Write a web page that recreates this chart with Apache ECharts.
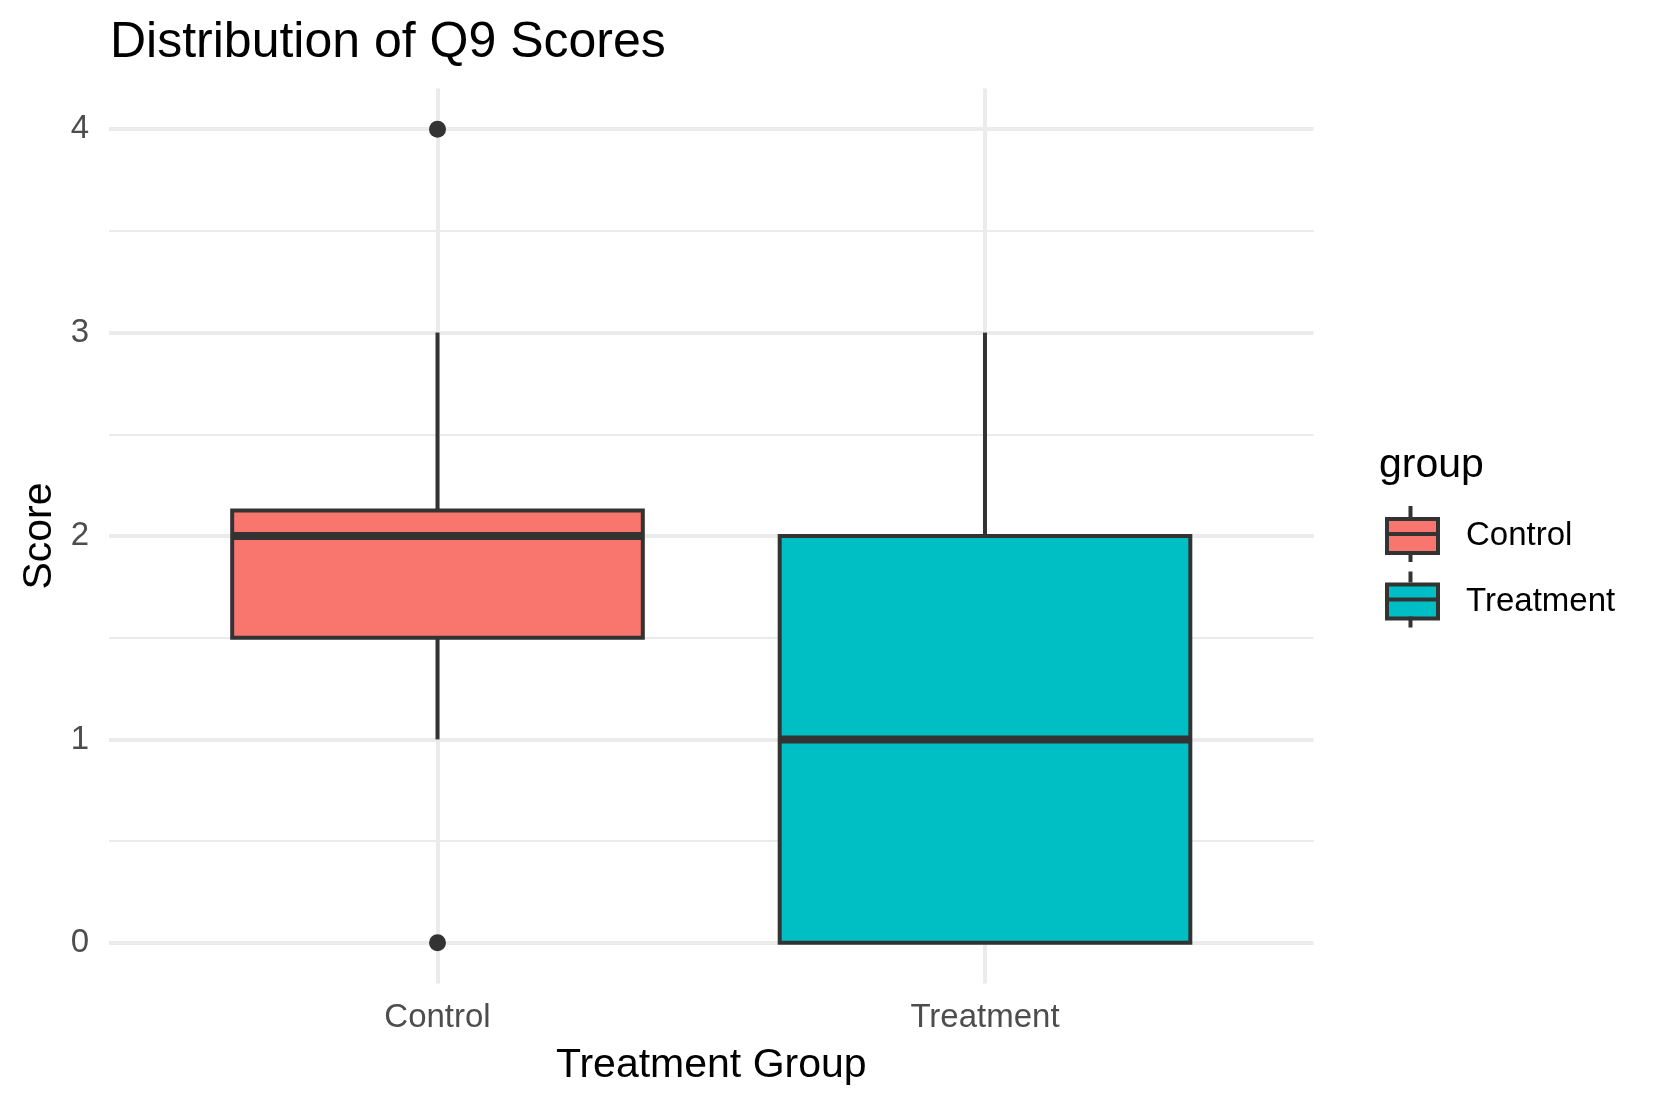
<!DOCTYPE html>
<html>
<head>
<meta charset="utf-8">
<title>Distribution of Q9 Scores</title>
<script src="https://cdn.jsdelivr.net/npm/echarts@6/dist/echarts.min.js"></script>
<style>
  html, body { margin: 0; padding: 0; background: #fff; }
  #chart { width: 1661px; height: 1107px; }
</style>
</head>
<body>
<div id="chart"></div>
<script>
// box stats per group
const groups = ['Control', 'Treatment']
const groupPos = [1, 2]
const whiskerLow = [1, 0]
const q1 = [1.5, 0]
const median = [2, 1]
const q3 = [2.125, 2]
const whiskerHigh = [3, 3]
// outliers (only Control has them)
const outlierGroup = [1, 1]
const outlierValue = [4, 0]
// axis ticks
const yTicks = [0, 1, 2, 3, 4]
const yMinorTicks = [0.5, 1.5, 2.5, 3.5]

const colors = ['#F8766D', '#00BFC4']
const FONT = 'Liberation Sans, Arial, Helvetica, sans-serif'
const BOX_WIDTH = 0.75
const GRID = { left: 109, right: 347.5, top: 88.5, bottom: 123.5 }

function renderBox(params, api) {
  const x = api.value(0)
  const halfW = api.size([BOX_WIDTH, 0])[0] / 2
  const pLo = api.coord([x, api.value(1)])
  const pQ1 = api.coord([x, api.value(2)])
  const pMed = api.coord([x, api.value(3)])
  const pQ3 = api.coord([x, api.value(4)])
  const pHi = api.coord([x, api.value(5)])
  const fill = api.visual('color')
  const line = { stroke: '#333333', lineWidth: 4 }
  return {
    type: 'group',
    children: [
      { type: 'line', shape: { x1: pHi[0], y1: pHi[1], x2: pQ3[0], y2: pQ3[1] }, style: line },
      { type: 'line', shape: { x1: pLo[0], y1: pLo[1], x2: pQ1[0], y2: pQ1[1] }, style: line },
      {
        type: 'rect',
        shape: { x: pQ3[0] - halfW, y: pQ3[1], width: halfW * 2, height: pQ1[1] - pQ3[1] },
        style: { fill: fill, stroke: '#333333', lineWidth: 4 }
      },
      {
        type: 'line',
        shape: { x1: pMed[0] - halfW, y1: pMed[1], x2: pMed[0] + halfW, y2: pMed[1] },
        style: { stroke: '#333333', lineWidth: 8 }
      }
    ]
  }
}

const boxSeries = groups.map(function (name, i) {
  return {
    name: name,
    type: 'custom',
    renderItem: renderBox,
    itemStyle: { color: colors[i] },
    encode: { x: 0, y: [1, 2, 3, 4, 5] },
    data: [[groupPos[i], whiskerLow[i], q1[i], median[i], q3[i], whiskerHigh[i]]],
    z: 2
  }
})

const outlierData = outlierGroup.map(function (g, i) { return [g, outlierValue[i]] })

const gridLine = { color: '#EBEBEB', width: 4 }

const option = {
  backgroundColor: '#fff',
  animation: false,
  textStyle: { fontFamily: FONT },
  title: [
    {
      text: 'Distribution of Q9 Scores',
      left: 110,
      top: 18,
      padding: 0,
      textStyle: { fontSize: 50, fontWeight: 'normal', color: '#000', fontFamily: FONT }
    },
    {
      text: 'group',
      left: 1379,
      top: 445,
      padding: 0,
      textStyle: { fontSize: 41, fontWeight: 'normal', color: '#000', fontFamily: FONT }
    }
  ],
  legend: {
    data: [{ name: 'Control', icon: 'rect' }, { name: 'Treatment', icon: 'rect' }],
    orient: 'vertical',
    left: 1385,
    top: 517,
    padding: 0,
    itemWidth: 51,
    itemHeight: 34,
    itemGap: 27.5,
    selectedMode: false,
    itemStyle: { borderColor: '#333333', borderWidth: 4 },
    textStyle: { fontSize: 33, color: '#000', fontFamily: FONT, padding: [0, 0, 0, 23] }
  },
  grid: GRID,
  xAxis: {
    type: 'value',
    min: 0.4,
    max: 2.6,
    name: 'Treatment Group',
    nameLocation: 'middle',
    nameGap: 62,
    nameTextStyle: { fontSize: 41, color: '#000', fontFamily: FONT },
    axisLine: { show: false },
    axisTick: { show: false, customValues: groupPos },
    axisLabel: {
      customValues: groupPos,
      margin: 18,
      fontSize: 33,
      color: '#4D4D4D',
      fontFamily: FONT,
      formatter: function (v) { return groups[groupPos.indexOf(v)] }
    },
    splitLine: { show: true, lineStyle: gridLine }
  },
  yAxis: [
    {
      type: 'value',
      min: -0.2,
      max: 4.2,
      name: 'Score',
      nameLocation: 'middle',
      nameGap: 48,
      nameRotate: 90,
      nameTextStyle: { fontSize: 41, color: '#000', fontFamily: FONT },
      axisLine: { show: false },
      axisTick: { show: false, customValues: yTicks },
      axisLabel: { customValues: yTicks, margin: 20, fontSize: 33, color: '#4D4D4D', fontFamily: FONT },
      splitLine: { show: true, lineStyle: gridLine }
    },
    {
      type: 'value',
      min: -0.2,
      max: 4.2,
      position: 'left',
      axisLine: { show: false },
      axisTick: { show: false, customValues: yMinorTicks },
      axisLabel: { show: false, customValues: yMinorTicks },
      splitLine: { show: true, lineStyle: { color: '#EBEBEB', width: 2 } }
    }
  ],
  graphic: [
    // inner parts of the legend keys: median bar and whisker stubs
    { type: 'line', shape: { x1: 1385, y1: 534, x2: 1436, y2: 534 }, style: { stroke: '#333', lineWidth: 4 }, z: 100 },
    { type: 'line', shape: { x1: 1410.5, y1: 506, x2: 1410.5, y2: 517 }, style: { stroke: '#333', lineWidth: 4 }, z: 100 },
    { type: 'line', shape: { x1: 1410.5, y1: 551, x2: 1410.5, y2: 562 }, style: { stroke: '#333', lineWidth: 4 }, z: 100 },
    { type: 'line', shape: { x1: 1385, y1: 599.5, x2: 1436, y2: 599.5 }, style: { stroke: '#333', lineWidth: 4 }, z: 100 },
    { type: 'line', shape: { x1: 1410.5, y1: 571.5, x2: 1410.5, y2: 582.5 }, style: { stroke: '#333', lineWidth: 4 }, z: 100 },
    { type: 'line', shape: { x1: 1410.5, y1: 616.5, x2: 1410.5, y2: 627.5 }, style: { stroke: '#333', lineWidth: 4 }, z: 100 }
  ],
  series: boxSeries.concat([
    {
      type: 'scatter',
      data: outlierData,
      symbolSize: 17,
      itemStyle: { color: '#333333', opacity: 1 },
      z: 3
    }
  ])
}

const myChart = echarts.init(document.getElementById('chart'))
myChart.setOption(option)
</script>
</body>
</html>
